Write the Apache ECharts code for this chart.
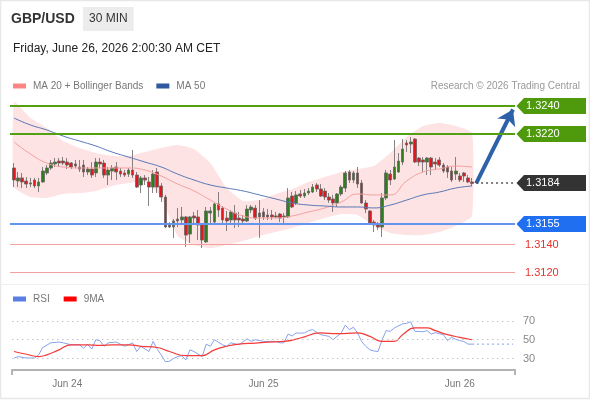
<!DOCTYPE html>
<html><head><meta charset="utf-8">
<script src="https://cdn.jsdelivr.net/npm/echarts@6/dist/echarts.min.js"></script>
<style>html,body{margin:0;padding:0;background:#fff}#c{width:590px;height:400px}</style>
</head><body><div id="c"></div>
<script>
// ---- data ----
const dayLabels = ['Jun 24', 'Jun 25', 'Jun 26'];
const dayStartIndex = [13, 61, 109];
const candleOpen = [1.31952,1.31858,1.31880,1.31858,1.31836,1.31865,1.31822,1.31851,1.31916,1.31952,1.31981,1.32002,1.32002,1.31995,1.31988,1.31981,1.31944,1.31973,1.31923,1.31944,1.31916,1.31995,1.31988,1.31901,1.31930,1.31959,1.31930,1.31916,1.31908,1.31937,1.31901,1.31829,1.31880,1.31851,1.31814,1.31923,1.31822,1.31742,1.31540,1.31525,1.31583,1.31576,1.31598,1.31474,1.31605,1.31598,1.31547,1.31417,1.31626,1.31561,1.31692,1.31662,1.31590,1.31576,1.31626,1.31590,1.31583,1.31569,1.31648,1.31662,1.31598,1.31634,1.31612,1.31612,1.31605,1.31619,1.31598,1.31598,1.31749,1.31699,1.31764,1.31749,1.31771,1.31778,1.31829,1.31800,1.31785,1.31742,1.31728,1.31699,1.31764,1.31807,1.31923,1.31865,1.31916,1.31843,1.31699,1.31641,1.31561,1.31540,1.31525,1.31735,1.31908,1.31872,1.31923,1.31995,1.32133,1.32125,1.32161,1.32024,1.32010,1.31995,1.32024,1.31995,1.32010,1.31973,1.31959,1.31930,1.31908,1.31894,1.31916,1.31880,1.31851];
const candleClose = [1.31865,1.31880,1.31851,1.31836,1.31844,1.31822,1.31851,1.31930,1.31952,1.31988,1.31995,1.31988,1.31988,1.31973,1.31959,1.31966,1.31959,1.31923,1.31944,1.31901,1.31995,1.31981,1.31901,1.31937,1.31952,1.31923,1.31908,1.31901,1.31937,1.31901,1.31814,1.31880,1.31865,1.31814,1.31908,1.31814,1.31742,1.31525,1.31525,1.31569,1.31569,1.31598,1.31467,1.31598,1.31590,1.31540,1.31431,1.31641,1.31641,1.31692,1.31648,1.31576,1.31569,1.31634,1.31576,1.31576,1.31569,1.31655,1.31670,1.31590,1.31626,1.31598,1.31598,1.31598,1.31598,1.31590,1.31605,1.31735,1.31670,1.31757,1.31749,1.31771,1.31785,1.31814,1.31800,1.31749,1.31742,1.31720,1.31699,1.31764,1.31814,1.31916,1.31865,1.31916,1.31836,1.31699,1.31655,1.31554,1.31540,1.31525,1.31735,1.31916,1.31865,1.31959,1.32002,1.32089,1.32118,1.32140,1.31995,1.31995,1.31995,1.32024,1.31959,1.31981,1.31973,1.31930,1.31923,1.31865,1.31930,1.31865,1.31894,1.31851,1.31840];
const candleLow = [1.31814,1.31814,1.31807,1.31807,1.31814,1.31807,1.31778,1.31845,1.31901,1.31937,1.31959,1.31959,1.31973,1.31944,1.31944,1.31952,1.31923,1.31887,1.31901,1.31880,1.31887,1.31952,1.31880,1.31829,1.31865,1.31865,1.31887,1.31887,1.31887,1.31880,1.31807,1.31771,1.31829,1.31677,1.31771,1.31771,1.31706,1.31518,1.31518,1.31446,1.31525,1.31540,1.31381,1.31410,1.31540,1.31431,1.31373,1.31410,1.31554,1.31554,1.31598,1.31554,1.31496,1.31540,1.31518,1.31525,1.31554,1.31561,1.31626,1.31576,1.31446,1.31576,1.31576,1.31576,1.31590,1.31561,1.31554,1.31590,1.31662,1.31684,1.31735,1.31735,1.31757,1.31771,1.31778,1.31742,1.31720,1.31699,1.31634,1.31670,1.31749,1.31778,1.31843,1.31843,1.31807,1.31692,1.31626,1.31540,1.31489,1.31504,1.31453,1.31720,1.31829,1.31865,1.31916,1.31973,1.32067,1.32060,1.31988,1.31966,1.31923,1.31901,1.31901,1.31937,1.31959,1.31916,1.31880,1.31851,1.31865,1.31851,1.31851,1.31843,1.31822];
const candleHigh = [1.31988,1.31923,1.31916,1.31887,1.31880,1.31880,1.31880,1.31959,1.31973,1.32010,1.32024,1.32024,1.32031,1.32024,1.31995,1.32010,1.32010,1.32010,1.31959,1.31995,1.32024,1.32024,1.32010,1.31959,1.31973,1.31995,1.31952,1.31937,1.31952,1.32082,1.31923,1.31894,1.31901,1.31887,1.31937,1.31952,1.31843,1.31757,1.31561,1.31583,1.31662,1.31670,1.31605,1.31605,1.31634,1.31648,1.31554,1.31670,1.31670,1.31699,1.31778,1.31677,1.31641,1.31648,1.31684,1.31634,1.31612,1.31684,1.31684,1.31684,1.31720,1.31662,1.31655,1.31648,1.31634,1.31626,1.31626,1.31807,1.31778,1.31785,1.31793,1.31800,1.31807,1.31836,1.31843,1.31836,1.31807,1.31771,1.31757,1.31771,1.31829,1.31930,1.31937,1.31930,1.31959,1.31865,1.31720,1.31648,1.31576,1.31561,1.31771,1.31937,1.31937,1.32154,1.32060,1.32161,1.32154,1.32176,1.32169,1.32031,1.32031,1.32031,1.32031,1.32024,1.32031,1.31988,1.31973,1.31959,1.32031,1.31916,1.31923,1.31901,1.31880];

const bandIndex = [0,4,8,12,16,20,24,28,32,36,40,44,48,52,56,60,64,68,72,76,80,84,88,92,96,100,104,108,112];
const ma20 = [1.32140,1.32053,1.31988,1.31959,1.31952,1.31952,1.31952,1.31952,1.31937,1.31894,1.31836,1.31786,1.31720,1.31655,1.31605,1.31590,1.31590,1.31605,1.31634,1.31663,1.31706,1.31764,1.31757,1.31757,1.31858,1.31923,1.31945,1.31966,1.31959];
const ma50 = [1.32313,1.32263,1.32227,1.32183,1.32147,1.32111,1.32067,1.32031,1.31995,1.31959,1.31908,1.31865,1.31829,1.31807,1.31786,1.31757,1.31728,1.31699,1.31684,1.31677,1.31670,1.31670,1.31663,1.31684,1.31720,1.31757,1.31778,1.31807,1.31822];
const bbUpper = [1.32429,1.32313,1.32241,1.32147,1.32096,1.32060,1.32039,1.32039,1.32067,1.32096,1.32118,1.32089,1.31988,1.31807,1.31713,1.31720,1.31764,1.31800,1.31851,1.31887,1.31923,1.31945,1.31966,1.32060,1.32176,1.32255,1.32277,1.32255,1.32205];
const bbLower = [1.31814,1.31742,1.31735,1.31764,1.31771,1.31786,1.31822,1.31843,1.31851,1.31742,1.31460,1.31395,1.31373,1.31395,1.31424,1.31460,1.31489,1.31518,1.31554,1.31590,1.31619,1.31612,1.31533,1.31482,1.31467,1.31467,1.31489,1.31533,1.31605];

const rsiIndex = [0,1,3,5,6,7,9,11,12,14,16,17,18,19,20,21,22,23,25,27,28,29,30,31,33,34,35,36,37,38,39,40,41,42,43,44,46,47,48,49,51,52,53,55,57,58,59,61,64,65,66,67,68,69,70,71,72,73,74,75,76,77,78,80,81,82,83,84,85,86,87,88,89,90,91,92,93,95,96,97,98,100,101,102,103,104,105,106,107,108,109,110,111,112];
const rsiValue = [30.5,32,30.5,30.5,33.8,41.7,46.7,47.5,46.7,44.6,44.6,41,45,40,50,49,43,46.7,47.5,43,44.6,46.7,37.4,43,37.4,48.2,40,33.8,26.6,27,30,32,33,28.4,39.2,37.4,32,45.3,43,50,44.6,43,46.7,44.6,51,48.2,50,48.2,48.2,46.7,46.7,56,54,57.2,57,57.2,59.7,60.8,58,55.4,54.5,53.6,50,57.2,65.5,60.8,63.3,57.2,48.2,43,39.2,38,37.4,50,59.7,59,62.6,66.9,67.5,69,59,58.5,59.7,56,57.5,56.5,55.4,49,52.5,50.5,49,48.2,45.3,45.3];
const rsiMaIndex = [0,3,6,8,11,14,18,21,24,28,31,35,38,42,46,49,52,55,59,62,66,70,75,79,84,87,90,93,95,98,101,103,106,109,112];
const rsiMaValue = [37.4,34.5,32,33.8,39.2,44.6,44.6,43.9,44.6,44.6,43,41.7,37.4,33,33,39.2,43,45.3,46.4,47.5,48.2,51.8,57.2,56.5,57.2,53.6,48.2,48.2,55.4,62.6,62.6,59.7,55.4,52.5,50];

const levelValues = [1.3240, 1.3220, 1.3184, 1.3155, 1.3140, 1.3120];
const rsiLevels = [70, 50, 30];
const rsiLast = 45.3;
const arrowFrom = [113, 1.3184];
const arrowTo = [122, 1.32375];
const totalSlots = 123;

// ---- build ----
const FONT = 'Liberation Sans, Arial, Helvetica, sans-serif';
const categories = [];
for (let i = 0; i < totalSlots; i++) {
  const t = 17 * 60 + 30 + 30 * i;
  const day = 23 + Math.floor(t / 1440);
  const m = t % 1440;
  categories.push('Jun ' + day + ' ' + String(Math.floor(m / 60)).padStart(2, '0') + ':' + String(m % 60).padStart(2, '0'));
}
const candles = candleOpen.map((o, i) => [o, candleClose[i], candleLow[i], candleHigh[i]]);
const pairs = (xs, ys) => xs.map((x, k) => [x, ys[k]]);

const levelStyles = [
  { kind: 'tag', line: '#54a014', lw: 2, fill: '#4f9a0c' },
  { kind: 'tag', line: '#54a014', lw: 2, fill: '#4f9a0c' },
  { kind: 'current', line: '#555', lw: 1.5, fill: '#333333' },
  { kind: 'tag', line: '#6494f0', lw: 2, fill: '#1f6ff0' },
  { kind: 'text', line: '#f3a0a0', lw: 1, text: '#e8322b' },
  { kind: 'text', line: '#f3a0a0', lw: 1, text: '#e8322b' }
];

const chart = echarts.init(document.getElementById('c'), null, { renderer: 'canvas' });
chart.setOption({
  animation: false,
  textStyle: { fontFamily: FONT },
  title: [
    { text: 'GBP/USD', left: 11, top: 12, padding: 0, textStyle: { fontSize: 14, fontWeight: 'bold', color: '#333', fontFamily: FONT } },
    { text: '30 MIN', left: 83, top: 7, padding: [6, 6, 6, 6], backgroundColor: '#ececec', textStyle: { fontSize: 12, fontWeight: 'normal', color: '#333', fontFamily: FONT } },
    { text: 'Friday, June 26, 2026 2:00:30 AM CET', left: 13, top: 43, padding: 0, textStyle: { fontSize: 12, fontWeight: 'normal', color: '#222', fontFamily: FONT } },
    { text: 'Research © 2026 Trading Central', right: 10, top: 81, padding: 0, textStyle: { fontSize: 10, fontWeight: 'normal', color: '#999', fontFamily: FONT } }
  ],
  legend: [
    { data: ['MA 20 + Bollinger Bands', 'MA 50'], left: 13, top: 81, padding: 0, icon: 'rect', itemWidth: 13, itemHeight: 5, itemGap: 13, selectedMode: false,
      textStyle: { color: '#777', fontSize: 10, fontFamily: FONT, padding: [0, 0, 0, 2] } },
    { data: ['RSI', '9MA'], left: 13, top: 294, padding: 0, icon: 'rect', itemWidth: 13, itemHeight: 5, itemGap: 14, selectedMode: false,
      textStyle: { color: '#777', fontSize: 10, fontFamily: FONT, padding: [0, 0, 0, 2] } }
  ],
  graphic: [
    { type: 'rect', silent: true, shape: { x: 0.5, y: 0.5, width: 589, height: 398 }, style: { fill: 'none', stroke: '#e8e8e8', lineWidth: 1.5 } },
    { type: 'line', silent: true, shape: { x1: 0, y1: 284.5, x2: 590, y2: 284.5 }, style: { stroke: '#efefef', lineWidth: 1 } }
  ],
  grid: [
    { left: 12, right: 75, top: 92.2, height: 193.6 },
    { left: 12, right: 75, top: 311.6, height: 58.4 }
  ],
  xAxis: [
    { type: 'category', gridIndex: 0, data: categories, boundaryGap: true, show: false },
    { type: 'category', gridIndex: 1, data: categories, boundaryGap: true,
      axisLine: { lineStyle: { color: '#b3b3b3', width: 2 } },
      axisTick: { show: true, length: 5, interval: (i) => i === 0, lineStyle: { color: '#b3b3b3', width: 2 } },
      axisLabel: { color: '#777', fontSize: 10, margin: 9, interval: (i) => dayStartIndex.indexOf(i) >= 0,
        formatter: (v, i) => dayLabels[dayStartIndex.indexOf(i)] || '' } }
  ],
  yAxis: [
    { type: 'value', gridIndex: 0, min: 1.3110, max: 1.3250, show: false, splitLine: { show: false } },
    { type: 'value', gridIndex: 1, min: 17.7, max: 80, show: false, splitLine: { show: false } }
  ],
  series: [
    { type: 'custom', name: 'bands', xAxisIndex: 0, yAxisIndex: 0, z: 1, silent: true,
      encode: { x: 0, y: 1 }, data: [[0, bbUpper[0]]],
      renderItem: (params, api) => {
        const up = bandIndex.map((x, k) => api.coord([x, bbUpper[k]]));
        const lo = bandIndex.map((x, k) => api.coord([x, bbLower[k]])).reverse();
        return { type: 'polygon', shape: { points: up.concat(lo), smooth: 0.15 }, style: { fill: '#fde3e3' } };
      } },
    { type: 'candlestick', name: 'GBP/USD', xAxisIndex: 0, yAxisIndex: 0, z: 3, data: candles, barWidth: 3.2,
      itemStyle: { color: '#2f7d1c', color0: '#e3161b', borderColor: '#666', borderColor0: '#666', borderWidth: 0.8 } },
    { type: 'line', name: 'MA 20 + Bollinger Bands', xAxisIndex: 0, yAxisIndex: 0, z: 4, data: pairs(bandIndex, ma20),
      smooth: true, showSymbol: false, silent: true, itemStyle: { color: '#ff8585' }, lineStyle: { color: '#f5a0a0', width: 1 } },
    { type: 'line', name: 'MA 50', xAxisIndex: 0, yAxisIndex: 0, z: 4, data: pairs(bandIndex, ma50),
      smooth: true, showSymbol: false, silent: true, itemStyle: { color: '#2f5a9e' }, lineStyle: { color: '#5676b6', width: 1 },
      markLine: { silent: true, symbol: ['none', 'arrow'], symbolSize: 15, label: { show: false },
        lineStyle: { color: '#2d62a8', width: 4, type: 'solid' }, emphasis: { disabled: true },
        data: [[{ coord: arrowFrom }, { coord: arrowTo }]] } },
    { type: 'custom', name: 'levels', xAxisIndex: 0, yAxisIndex: 0, z: 5, silent: true, clip: false,
      encode: { x: 0, y: 1 }, data: levelValues.map(v => [0, v]),
      renderItem: (params, api) => {
        const v = api.value(1);
        const st = levelStyles[params.dataIndex];
        const cs = params.coordSys;
        let y = Math.round(api.coord([0, v])[1]);
        if (st.lw % 2 === 1) y += 0.5;
        const xEnd = cs.x + cs.width;
        let xStart = cs.x - 2;
        const children = [];
        if (st.kind === 'current') {
          xStart = api.coord([candleOpen.length - 1, v])[0] + 4;
          children.push({ type: 'line', shape: { x1: xStart, y1: y, x2: xEnd, y2: y }, style: { stroke: st.line, lineWidth: st.lw, lineDash: [2, 3] } });
        } else {
          children.push({ type: 'line', shape: { x1: xStart, y1: y, x2: xEnd, y2: y }, style: { stroke: st.line, lineWidth: st.lw } });
        }
        const label = v.toFixed(4);
        if (st.kind === 'text') {
          children.push({ type: 'text', x: xEnd + 10, y: y, style: { text: label, fill: st.text, font: '11px ' + FONT, align: 'left', verticalAlign: 'middle' } });
        } else {
          children.push({ type: 'polygon', shape: { points: [[xEnd + 1.5, y], [xEnd + 9, y - 8], [xEnd + 71, y - 8], [xEnd + 71, y + 8], [xEnd + 9, y + 8]] }, style: { fill: st.fill } });
          children.push({ type: 'text', x: xEnd + 11, y: y, style: { text: label, fill: '#fff', font: '11px ' + FONT, align: 'left', verticalAlign: 'middle' } });
        }
        return { type: 'group', children: children };
      } },
    { type: 'line', name: 'RSI', xAxisIndex: 1, yAxisIndex: 1, z: 3, data: pairs(rsiIndex, rsiValue),
      showSymbol: false, silent: true, itemStyle: { color: '#5a7fe3' }, lineStyle: { color: '#86a2ef', width: 1 },
      markLine: { silent: true, symbol: ['none', 'none'], emphasis: { disabled: true },
        lineStyle: { type: [1.5, 3.5], color: '#c4c4c4', width: 1 },
        label: { position: 'end', formatter: '{c}', color: '#888', fontSize: 11, distance: 8, fontFamily: FONT },
        data: rsiLevels.map(v => ({ yAxis: v })) } },
    { type: 'line', name: 'rsiExt', xAxisIndex: 1, yAxisIndex: 1, z: 3, data: [[rsiIndex[rsiIndex.length - 1], rsiLast], [totalSlots - 1, rsiLast]],
      showSymbol: false, silent: true, lineStyle: { color: '#7f9ef0', width: 1, type: [2, 3] } },
    { type: 'line', name: '9MA', xAxisIndex: 1, yAxisIndex: 1, z: 4, data: pairs(rsiMaIndex, rsiMaValue),
      smooth: true, showSymbol: false, silent: true, itemStyle: { color: '#ff0000' }, lineStyle: { color: '#f53a3a', width: 1.2 } }
  ]
});
</script></body></html>
